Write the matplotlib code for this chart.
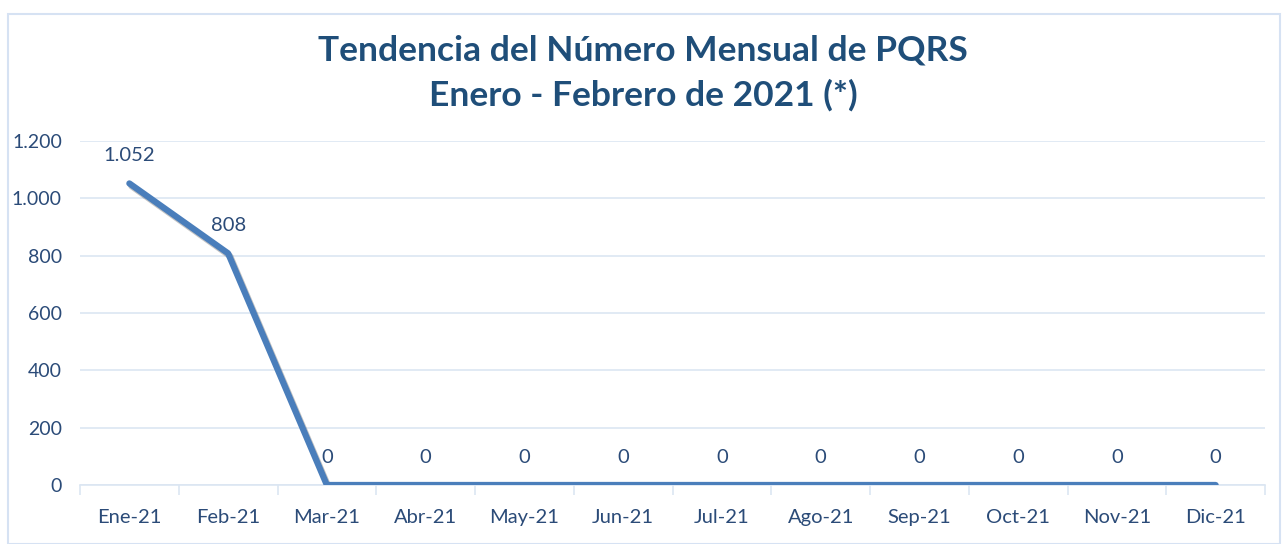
import matplotlib
matplotlib.use("Agg")
import matplotlib.pyplot as plt
import matplotlib.patheffects as pe
from matplotlib.ticker import FuncFormatter, FixedLocator
from matplotlib.patches import Rectangle

# ── Data ────────────────────────────────────────────────────
MONTHS = ["Ene-21", "Feb-21", "Mar-21", "Abr-21", "May-21", "Jun-21",
          "Jul-21", "Ago-21", "Sep-21", "Oct-21", "Nov-21", "Dic-21"]
PQRS = [1052, 808, 0, 0, 0, 0, 0, 0, 0, 0, 0, 0]
Y_TICKS = [0, 200, 400, 600, 800, 1000, 1200]

TITLE = "Tendencia del Número Mensual de PQRS\nEnero - Febrero de 2021 (*)"

# ── Style ───────────────────────────────────────────────────
FONT = "Lato"
TITLE_COLOR = "#1f4e79"
TEXT_COLOR = "#2b4b78"
LINE_COLOR = "#4a7ebb"
GRID_COLOR = "#dce6f2"
LABEL_SIZE = 14.5


def miles(v, _pos=None):
    return f"{int(v):,}".replace(",", ".")


fig = plt.figure(figsize=(12.83, 5.44), dpi=100)
fig.patch.set_facecolor("white")
fig.patches.append(Rectangle((8 / 1283, 0.0), 1272 / 1283, 1 - 14 / 544,
                             transform=fig.transFigure, fill=False,
                             edgecolor="#d6e2f3", linewidth=1.5))

ax = fig.add_axes([80 / 1283, 59 / 544, 1185 / 1283, 344 / 544])
x = list(range(len(MONTHS)))

# linea con sombra suave, como en el grafico original
ax.plot(x, PQRS, color=LINE_COLOR, linewidth=4.5, solid_capstyle="round",
        solid_joinstyle="round", zorder=3,
        path_effects=[pe.SimpleLineShadow(offset=(1.5, -2), shadow_color="#555555",
                                          alpha=0.35),
                      pe.Normal()])

for xi, v in zip(x, PQRS):
    ax.annotate(miles(v), (xi, v), xytext=(0, 20), textcoords="offset points",
                ha="center", va="center", fontsize=LABEL_SIZE, color=TEXT_COLOR,
                family=FONT)

ax.set_xlim(-0.5, len(MONTHS) - 0.5)
ax.set_ylim(0, 1200)
ax.set_xticks(x)
ax.set_xticklabels(MONTHS, family=FONT, fontsize=LABEL_SIZE, color=TEXT_COLOR)
ax.xaxis.set_minor_locator(FixedLocator([i - 0.5 for i in range(len(MONTHS) + 1)]))
ax.tick_params(axis="x", which="major", length=0, pad=17)
ax.tick_params(axis="x", which="minor", length=7, color=GRID_COLOR, width=1.2)

ax.set_yticks(Y_TICKS)
ax.yaxis.set_major_formatter(FuncFormatter(miles))
ax.tick_params(axis="y", length=0, pad=13, labelsize=14,
               labelcolor=TEXT_COLOR)
for lbl in ax.get_yticklabels():
    lbl.set_family(FONT)

ax.grid(axis="y", color=GRID_COLOR, linewidth=1.2)
ax.set_axisbelow(True)
for s in ["top", "right", "left"]:
    ax.spines[s].set_visible(False)
ax.spines["bottom"].set_color(GRID_COLOR)
ax.spines["bottom"].set_linewidth(1.2)

fig.text(643 / 1283, 1 - 73 / 544, TITLE, ha="center", va="center",
         fontsize=25.5, fontweight="bold", color=TITLE_COLOR, family=FONT,
         linespacing=1.5)

fig.savefig("out.png", dpi=100)
